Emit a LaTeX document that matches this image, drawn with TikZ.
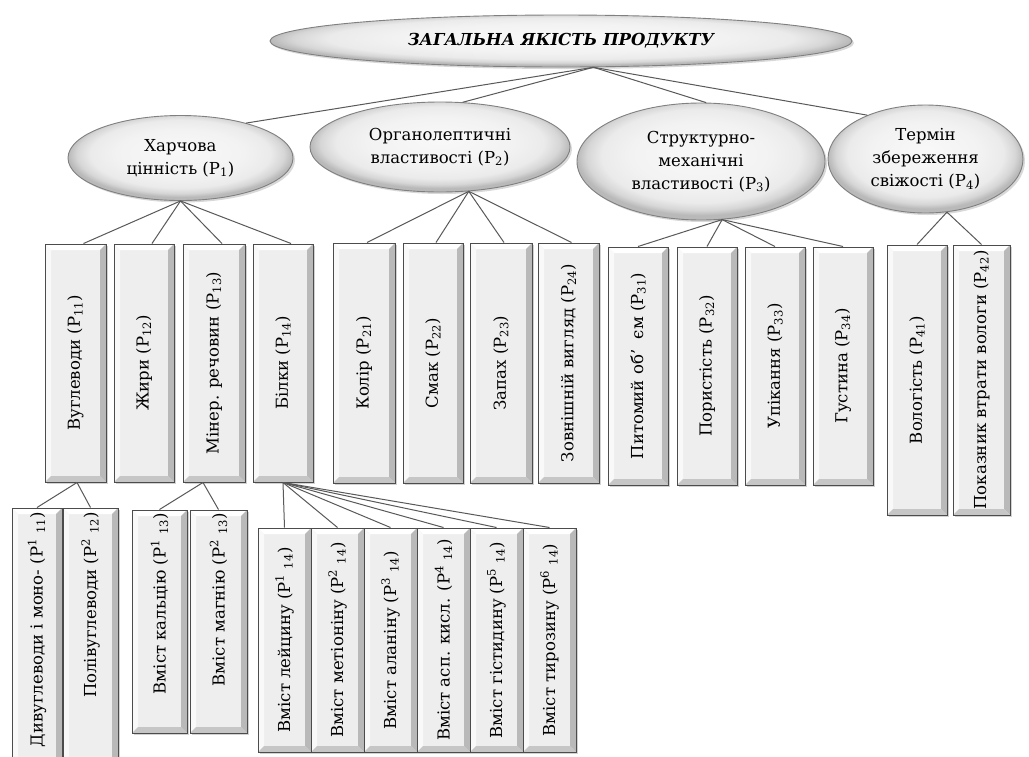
\documentclass[tikz,border=0pt]{standalone}
\usepackage{fontspec}
\usepackage{graphicx}
\setmainfont{DejaVu Serif}
\usetikzlibrary{shapes.geometric,shadows}
\newcommand\rt[1]{\rotatebox{90}{#1}}
\newcommand\rtr[2]{\rotatebox{90}{\makebox[#1][r]{#2}}}
\pgfdeclareradialshading{ellshade}{\pgfpoint{0bp}{4bp}}{%
  color(0bp)=(gray!5); color(14bp)=(gray!10); color(20bp)=(gray!16);
  color(23bp)=(gray!32); color(25bp)=(gray!55); color(50bp)=(gray!55)}
\tikzset{
  conn/.style={draw=black!65, line width=1pt},
  ell/.style={ellipse, inner sep=0pt, draw=black!50, line width=0.9pt,
    shading=ellshade,
    drop shadow={opacity=0.3, shadow xshift=2pt, shadow yshift=-2pt},
    align=center, font=\fontsize{16.5}{23}\selectfont},
  bx/.style={rectangle, inner sep=0pt, draw=black!70, line width=1pt, fill=gray!13,
    drop shadow={opacity=0.35, shadow xshift=2pt, shadow yshift=-2pt},
    font=\fontsize{16.5}{20}\selectfont,
    path picture={
      \coordinate (ppnw) at (path picture bounding box.north west);
      \coordinate (ppne) at (path picture bounding box.north east);
      \coordinate (ppsw) at (path picture bounding box.south west);
      \coordinate (ppse) at (path picture bounding box.south east);
      \fill[white] (ppnw) -- (ppne) -- ([xshift=-6pt,yshift=-6pt]ppne) -- ([xshift=6pt,yshift=-6pt]ppnw) -- cycle;
      \fill[gray!5] (ppnw) -- ([xshift=6pt,yshift=-6pt]ppnw) -- ([xshift=6pt,yshift=6pt]ppsw) -- (ppsw) -- cycle;
      \fill[gray!55] (ppne) -- (ppse) -- ([xshift=-6pt,yshift=6pt]ppse) -- ([xshift=-6pt,yshift=-6pt]ppne) -- cycle;
      \fill[gray!45] (ppsw) -- (ppse) -- ([xshift=-6pt,yshift=6pt]ppse) -- ([xshift=6pt,yshift=6pt]ppsw) -- cycle;
    }},
}
\begin{document}
\begin{tikzpicture}[x=1pt,y=-1pt]
\useasboundingbox[fill=white] (0,0) rectangle (1029,756);

% top
\node[ell, minimum width=582pt, minimum height=52pt] (top) at (561,41)
  {\bfseries\itshape ЗАГАЛЬНА ЯКІСТЬ ПРОДУКТУ};

% level 2
\node[ell, minimum width=225pt, minimum height=85pt] (p1) at (180.5,158)
  {Харчова\\цінність (P\textsubscript{1})};
\node[ell, minimum width=260pt, minimum height=90pt] (p2) at (440,147)
  {Органолептичні\\властивості (P\textsubscript{2})};
\node[ell, minimum width=248pt, minimum height=117pt] (p3) at (701,161.5)
  {Структурно-\\механічні\\властивості (P\textsubscript{3})};
\node[ell, minimum width=195pt, minimum height=108pt] (p4) at (925.5,159)
  {Термін\\збереження\\свіжості (P\textsubscript{4})};

% level 3
\node[bx, minimum width=61pt, minimum height=238pt] (b11) at (75.5,363) {\rt{Вуглеводи (P\textsubscript{11})}};
\node[bx, minimum width=60pt, minimum height=238pt] (b12) at (144,363) {\rt{Жири (P\textsubscript{12})}};
\node[bx, minimum width=62pt, minimum height=238pt] (b13) at (214,363) {\rt{Мінер. речовин (P\textsubscript{13})}};
\node[bx, minimum width=60pt, minimum height=238pt] (b14) at (283,363) {\rt{Білки (P\textsubscript{14})}};

\node[bx, minimum width=62pt, minimum height=240pt] (b21) at (364,363) {\rt{Колір (P\textsubscript{21})}};
\node[bx, minimum width=60pt, minimum height=240pt] (b22) at (433,363) {\rt{Смак (P\textsubscript{22})}};
\node[bx, minimum width=62pt, minimum height=240pt] (b23) at (501,363) {\rt{Запах (P\textsubscript{23})}};
\node[bx, minimum width=61pt, minimum height=240pt] (b24) at (568.5,363) {\rt{Зовнішній вигляд (P\textsubscript{24})}};

\node[bx, minimum width=60pt, minimum height=238pt] (b31) at (638,366) {\rt{Питомий об’\ \ єм (P\textsubscript{31})}};
\node[bx, minimum width=60pt, minimum height=238pt] (b32) at (707,366) {\rt{Пористість (P\textsubscript{32})}};
\node[bx, minimum width=60pt, minimum height=238pt] (b33) at (775,366) {\rt{Упікання (P\textsubscript{33})}};
\node[bx, minimum width=60pt, minimum height=238pt] (b34) at (843,366) {\rt{Густина (P\textsubscript{34})}};

\node[bx, minimum width=60pt, minimum height=270pt] (b41) at (917,380) {\rt{Вологість (P\textsubscript{41})}};
\node[bx, minimum width=57pt, minimum height=270pt] (b42) at (981.5,380) {\rt{Показник втрати вологи (P\textsubscript{42})}};

% level 4
\node[bx, minimum width=50pt, minimum height=262pt] (c111) at (37,639) {\rtr{254pt}{Дивуглеводи і моно- (P\textsuperscript{1} \textsubscript{11})}};
\node[bx, minimum width=55pt, minimum height=262pt] (c112) at (90.5,639) {\rtr{254pt}{Полівуглеводи (P\textsuperscript{2} \textsubscript{12})}};
\node[bx, minimum width=55pt, minimum height=223pt] (c131) at (159.5,621.5) {\rtr{217pt}{Вміст кальцію (P\textsuperscript{1} \textsubscript{13})}};
\node[bx, minimum width=57pt, minimum height=223pt] (c132) at (218.5,621.5) {\rtr{217pt}{Вміст магнію (P\textsuperscript{2} \textsubscript{13})}};

\node[bx, minimum width=53pt, minimum height=224pt] (c141) at (284.5,640) {\rt{Вміст лейцину (P\textsuperscript{1} \textsubscript{14})}};
\node[bx, minimum width=53pt, minimum height=224pt] (c142) at (337.5,640) {\rt{Вміст метіоніну (P\textsuperscript{2} \textsubscript{14})}};
\node[bx, minimum width=53pt, minimum height=224pt] (c143) at (390.5,640) {\rt{Вміст аланіну (P\textsuperscript{3} \textsubscript{14})}};
\node[bx, minimum width=53pt, minimum height=224pt] (c144) at (443.5,640) {\rt{Вміст асп. кисл. (P\textsuperscript{4} \textsubscript{14})}};
\node[bx, minimum width=53pt, minimum height=224pt] (c145) at (496.5,640) {\rt{Вміст гістидину (P\textsuperscript{5} \textsubscript{14})}};
\node[bx, minimum width=53pt, minimum height=224pt] (c146) at (549.5,640) {\rt{Вміст тирозину (P\textsuperscript{6} \textsubscript{14})}};

% connectors
\draw[conn] (top.-39) -- (p1.28);
\draw[conn] (top.-39) -- (p2.63);
\draw[conn] (top.-39) -- (p3.85);
\draw[conn] (top.-39) -- (p4.143);

\foreach \b in {b11,b12,b13,b14} \draw[conn] (p1.south) -- ([xshift=8pt]\b.north);
\foreach \b in {b21,b22,b23,b24} \draw[conn] (p2.-57) -- ([xshift=3pt]\b.north);
\foreach \b in {b31,b32,b33,b34} \draw[conn] (p3.-70) -- (\b.north);
\foreach \b in {b41,b42} \draw[conn] (p4.-68) -- (\b.north);

\foreach \c in {c111,c112} \draw[conn] ([xshift=1.5pt]b11.south) -- (\c.north);
\foreach \c in {c131,c132} \draw[conn] ([xshift=-11pt]b13.south) -- (\c.north);
\foreach \c in {c141,c142,c143,c144,c145,c146} \draw[conn] (b14.south) -- (\c.north);
\end{tikzpicture}
\end{document}
